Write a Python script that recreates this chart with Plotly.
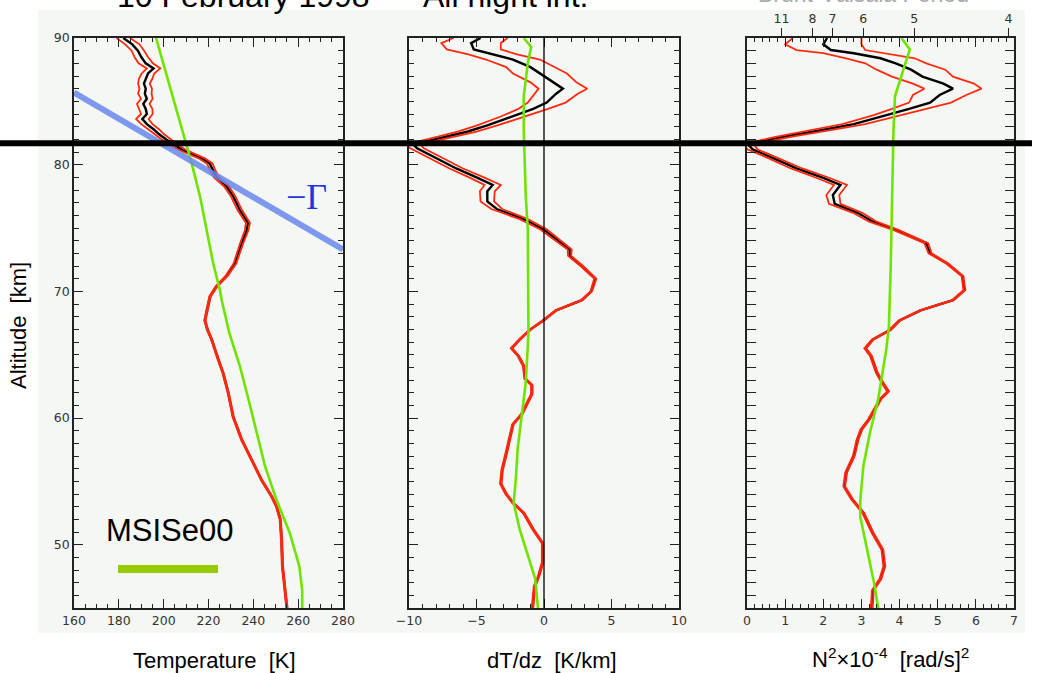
import numpy as np
import plotly.graph_objects as go

# ---------------- data ----------------
# Panel 1: lidar temperature [K] vs altitude [km]
z_T = [90.0, 89.5, 89.0, 88.5, 88.0, 87.6, 87.2, 86.8, 86.4, 86.0,
       85.6, 85.2, 84.8, 84.4, 84.0, 83.6, 83.2, 82.8, 82.4, 82.0,
       81.6, 81.2, 80.9, 80.5, 80.1, 79.5, 79.0, 78.3, 77.5, 76.4,
       75.4, 74.8, 73.8, 72.2, 71.2, 70.4, 69.6, 68.5, 67.7, 67.0,
       66.2, 64.6, 63.5, 62.0, 60.1, 58.3, 56.7, 55.1, 53.8, 53.0,
       52.0, 50.4, 48.3, 46.7, 45.0]
T_lidar = [182, 186, 188.5, 190, 192, 195.5, 193, 192, 191.2, 192,
           191.6, 192.5, 190.9, 192, 192.5, 190.5, 192.5, 195.5, 198, 201,
           204.5, 208, 211.7, 217, 220.5, 222, 223.6, 228, 231, 234,
           237.6, 237, 234.8, 231.8, 228, 223.6, 220.7, 219.3, 218.4, 219.5,
           221.4, 224.4, 226.6, 228.8, 231, 234.8, 239.2, 243.7, 248.2, 250.4,
           252, 252.6, 253, 254, 255]
T_err = [3.0, 3.2, 2.8, 3.0, 3.2, 3.0, 2.8, 3.0, 2.6, 2.8,
         3.0, 2.6, 2.8, 3.0, 2.6, 2.8, 2.5, 2.4, 2.2, 2.0,
         1.8, 1.6, 1.5, 1.4, 1.3, 1.2, 1.2, 1.1, 1.0, 1.0,
         0.9, 0.8, 0.7, 0.6, 0.5, 0.4, 0.35, 0.3, 0.3, 0.3,
         0.3, 0.3, 0.3, 0.3, 0.3, 0.3, 0.3, 0.3, 0.3, 0.3,
         0.3, 0.3, 0.3, 0.3, 0.3]

z_T_msis = [90, 87.5, 84.3, 82, 80.1, 77.5, 74.85, 72.2, 70.1, 69.3, 66.7,
            64.1, 61.5, 58.8, 56.2, 53.5, 50.9, 48.3, 46.4, 45]
T_msis = [196.6, 200.6, 205.8, 209.5, 212.5, 216.2, 219.2, 222.1, 225.1, 225.9, 229.3,
          234.0, 237.8, 241.5, 245.2, 250.4, 256.3, 260.5, 261.8, 261.8]

# lapse-rate line (-Gamma)
gamma_T = [160, 280]
gamma_z = [85.7, 73.3]

# Panel 2: dT/dz [K/km]
z_G = [90.0, 89.6, 89.1, 88.7, 88.3, 87.7, 87.2, 86.5, 86.0, 85.6,
       84.9, 84.4, 83.8, 83.1, 82.6, 82.1, 81.6, 81.3, 80.5, 79.7,
       79.0, 78.4, 77.9, 77.1, 76.5, 75.7, 74.9, 74.1, 73.3, 72.8,
       72.0, 71.0, 70.0, 69.3, 68.5, 67.7, 67.0, 66.2, 65.5, 64.9,
       64.1, 63.1, 62.6, 61.9, 61.3, 60.3, 59.5, 58.5, 57.2, 55.9,
       54.8, 54.0, 53.3, 52.5, 51.2, 50.1, 48.6, 47.5, 46.7, 45.0]
dTdz = [-4.7, -5.4, -5.2, -3.8, -2.3, -1.0, -0.3, 0.7, 1.4, 0.9,
        0.2, -0.8, -2.3, -4.2, -5.7, -7.7, -9.7, -9.4, -8.0, -6.5,
        -5.0, -3.8, -4.2, -4.2, -3.5, -1.5, -0.05, 0.9, 1.9, 1.9,
        2.8, 3.8, 3.5, 2.8, 0.9, -0.05, -1.0, -1.8, -2.4, -1.9,
        -1.5, -1.4, -0.9, -0.9, -1.2, -1.65, -2.3, -2.5, -2.8, -3.1,
        -3.2, -2.8, -2.3, -1.5, -0.8, -0.1, -0.1, -0.4, -0.7, -0.85]
dTdz_err = [2.0, 2.2, 2.0, 1.8, 2.0, 1.8, 2.0, 1.7, 1.8, 1.6,
            1.4, 1.1, 0.9, 0.75, 0.7, 0.6, 0.55, 0.5, 0.5, 0.5,
            0.55, 0.6, 0.55, 0.5, 0.4, 0.3, 0.25, 0.2, 0.15, 0.12,
            0.1, 0.08, 0.06, 0.06, 0.06, 0.06, 0.06, 0.06, 0.06, 0.06,
            0.06, 0.06, 0.06, 0.06, 0.06, 0.06, 0.06, 0.06, 0.06, 0.06,
            0.06, 0.06, 0.06, 0.06, 0.06, 0.06, 0.06, 0.06, 0.06, 0.06]

z_G_msis = [90, 89.3, 88, 85.4, 82.7, 77.5, 74.85, 69.6, 66.7, 62.8, 60.2,
            57.6, 55.0, 53.3, 51.2, 49.1, 47.3, 45.0]
dTdz_msis = [-1.5, -0.95, -1.2, -1.5, -1.5, -1.35, -1.2, -1.15, -1.15, -1.35, -1.65,
             -1.95, -2.1, -2.25, -1.8, -1.2, -0.65, -0.45]

# Panel 3: N^2 x 1e-4 [rad/s]^2
z_N = [90.0, 89.5, 89.05, 88.8, 88.4, 88.0, 87.5, 86.95, 86.4, 86.0,
       85.5, 84.9, 84.4, 83.9, 83.2, 82.7, 82.2, 81.6, 81.2, 80.5,
       79.7, 78.95, 78.4, 77.6, 76.9, 76.2, 75.5, 74.85, 73.8, 73.0,
       72.2, 71.2, 70.1, 69.3, 68.5, 67.7, 66.95, 66.2, 65.5, 64.9,
       63.6, 62.8, 62.1, 61.5, 60.7, 59.9, 59.1, 58.3, 57.0, 55.7,
       54.6, 53.6, 52.5, 50.9, 49.6, 48.3, 47.3, 46.4, 45.0]
N2 = [2.1, 2.0, 2.2, 2.8, 3.5, 3.9, 4.3, 4.6, 5.15, 5.4,
      5.05, 4.8, 4.25, 3.65, 2.8, 1.9, 0.95, 0.03, 0.15, 0.7,
      1.3, 2.0, 2.45, 2.25, 2.3, 2.9, 3.3, 3.9, 4.7, 4.8,
      5.25, 5.65, 5.7, 5.4, 4.55, 4.0, 3.75, 3.3, 3.1, 3.25,
      3.4, 3.55, 3.7, 3.5, 3.35, 3.2, 3.0, 2.9, 2.8, 2.6,
      2.55, 2.75, 3.05, 3.3, 3.55, 3.6, 3.5, 3.3, 3.27]
N2_err = [0.9, 1.0, 0.9, 0.8, 0.9, 0.8, 0.9, 0.8, 0.8, 0.75,
          0.7, 0.55, 0.45, 0.35, 0.3, 0.25, 0.2, 0.15, 0.13, 0.13,
          0.15, 0.17, 0.17, 0.17, 0.15, 0.12, 0.1, 0.07, 0.05, 0.04,
          0.03, 0.025, 0.025, 0.025, 0.025, 0.025, 0.025, 0.025, 0.025, 0.025,
          0.025, 0.025, 0.025, 0.025, 0.025, 0.025, 0.025, 0.025, 0.025, 0.025,
          0.025, 0.025, 0.025, 0.025, 0.025, 0.025, 0.025, 0.025, 0.025]

z_N_msis = [90, 89.1, 87.5, 85.4, 82.7, 77.5, 72.2, 67.2, 65.4, 61.5,
            58.8, 56.2, 53.5, 52.2, 49.6, 47.0, 45.0]
N2_msis = [4.05, 4.27, 4.1, 3.88, 3.84, 3.81, 3.77, 3.72, 3.65, 3.44,
           3.22, 3.05, 2.97, 2.97, 3.14, 3.33, 3.44]

# Brunt-Vaisala period tick labels [min]
periods_min = [11, 8, 7, 6, 5, 4]

# ---------------- figure ----------------
W, H = 1046, 673
def fx(p): return p / W
def fy(p): return 1 - p / H

RED = "#ff2a10"
GREEN = "#6fe400"
BLACK = "#000000"
FRAME = "#222222"

fig = go.Figure()

def add_profile(xa, ya, z, v, e, zm, vm):
    z = np.array(z); v = np.array(v); e = np.array(e)
    fig.add_trace(go.Scatter(x=v, y=z, mode="lines", line=dict(color=BLACK, width=2.4),
                             xaxis=xa, yaxis=ya, hoverinfo="skip"))
    for s in (-1, 1):
        fig.add_trace(go.Scatter(x=v + s * e, y=z, mode="lines",
                                 line=dict(color=RED, width=1.8),
                                 xaxis=xa, yaxis=ya, hoverinfo="skip"))
    fig.add_trace(go.Scatter(x=vm, y=zm, mode="lines", line=dict(color=GREEN, width=2.6),
                             xaxis=xa, yaxis=ya, hoverinfo="skip"))

add_profile("x", "y", z_T, T_lidar, T_err, z_T_msis, T_msis)
fig.add_trace(go.Scatter(x=gamma_T, y=gamma_z, mode="lines",
                         line=dict(color="rgba(105,135,235,0.85)", width=6),
                         xaxis="x", yaxis="y", hoverinfo="skip"))
add_profile("x2", "y2", z_G, dTdz, dTdz_err, z_G_msis, dTdz_msis)
add_profile("x3", "y3", z_N, N2, N2_err, z_N_msis, N2_msis)

period_pos = [(2 * np.pi / (p * 60.0)) ** 2 * 1e4 for p in periods_min]
fig.add_trace(go.Scatter(x=[None], y=[None], xaxis="x4", yaxis="y3", mode="lines",
                         showlegend=False, hoverinfo="skip"))

tickfont = dict(family="DejaVu Sans", size=12.5, color="#333333")

def xax(dom, rng, dtick, minor_dtick, anchor, tick0=None):
    d = dict(domain=dom, range=rng, dtick=dtick, ticks="inside", ticklen=9, tickwidth=1.2,
             tickcolor=FRAME, showline=True, linecolor=FRAME, linewidth=1.5,
             mirror="allticks", showgrid=False, zeroline=False, anchor=anchor,
             tickfont=tickfont, fixedrange=True, automargin=False,
             minor=dict(ticks="inside", dtick=minor_dtick, ticklen=4, tickwidth=1,
                        tickcolor=FRAME, showgrid=False))
    if tick0 is not None:
        d["tick0"] = tick0
    return d

def yax(anchor, labels):
    return dict(domain=[fy(608), fy(38)], range=[45, 90], dtick=10, tick0=0,
                ticks="inside", ticklen=9, tickwidth=1.2, tickcolor=FRAME,
                showline=True, linecolor=FRAME, linewidth=1.5, mirror="allticks",
                showgrid=False, zeroline=False, anchor=anchor, showticklabels=labels,
                tickfont=tickfont, fixedrange=True, automargin=False,
                minor=dict(ticks="inside", dtick=1, ticklen=5, tickwidth=1,
                           tickcolor=FRAME, showgrid=False))

fig.update_layout(
    width=W, height=H,
    margin=dict(l=0, r=0, t=0, b=0, pad=0, autoexpand=False),
    paper_bgcolor="white",
    plot_bgcolor="#f4f7f4",
    showlegend=False,
    xaxis=xax([fx(74), fx(343)], [160, 280], 20, 5, "y", 160),
    yaxis=yax("x", True),
    xaxis2=xax([fx(409), fx(679)], [-10, 10], 5, 1, "y2", 0),
    yaxis2=yax("x2", False),
    xaxis3=xax([fx(747), fx(1014)], [0, 7], 1, 0.2, "y3", 0),
    yaxis3=yax("x3", False),
    xaxis4=dict(overlaying="x3", side="top", anchor="y3", range=[0, 7],
                tickmode="array", tickvals=period_pos, ticktext=[str(p) for p in periods_min],
                ticks="outside", ticklen=9, tickwidth=1.2, tickcolor=FRAME,
                showline=False, showgrid=False, zeroline=False, tickfont=tickfont,
                fixedrange=True, automargin=False),
)

shapes = [
    # pale slide background
    dict(type="rect", xref="paper", yref="paper", x0=fx(38), x1=fx(1025), y0=fy(633), y1=fy(10),
         fillcolor="#f4f7f4", line=dict(width=0), layer="below"),
    # zero line in dT/dz panel
    dict(type="line", xref="x2", yref="y2 domain", x0=0, x1=0, y0=0, y1=1,
         line=dict(color=BLACK, width=1.3)),
    # marker line
    dict(type="line", xref="paper", yref="y", x0=0, x1=fx(1032), y0=81.7, y1=81.7,
         line=dict(color=BLACK, width=6)),
    # MSIS legend bar
    dict(type="line", xref="paper", yref="paper", x0=fx(118), x1=fx(218), y0=fy(569), y1=fy(569),
         line=dict(color="#99cc00", width=8)),
]
fig.update_layout(shapes=shapes)

ann_font = dict(family="Liberation Sans", size=22, color="black")
annotations = [
    dict(text="Temperature\u00a0\u00a0[K]", x=fx(214), y=fy(660), xref="paper", yref="paper",
         showarrow=False, font=ann_font, xanchor="center", yanchor="middle"),
    dict(text="dT/dz\u00a0\u00a0[K/km]", x=fx(552), y=fy(660), xref="paper", yref="paper",
         showarrow=False, font=ann_font, xanchor="center", yanchor="middle"),
    dict(text="N<sup>2</sup>×10<sup>-4</sup>\u00a0\u00a0[rad/s]<sup>2</sup>", x=fx(890), y=fy(658),
         xref="paper", yref="paper", showarrow=False, font=ann_font,
         xanchor="center", yanchor="middle"),
    dict(text="Altitude\u00a0\u00a0[km]", x=fx(18), y=fy(326), xref="paper", yref="paper",
         showarrow=False, font=ann_font, textangle=-90, xanchor="center", yanchor="middle"),
    dict(text="MSISe00", x=fx(170), y=fy(530), xref="paper", yref="paper",
         showarrow=False, font=dict(family="Liberation Sans", size=31, color="black"),
         xanchor="center", yanchor="middle"),
    dict(text="\u2212\u0393", x=fx(306), y=fy(197), xref="paper", yref="paper",
         showarrow=False, font=dict(family="Liberation Serif", size=36, color="#1f35e0"),
         xanchor="center", yanchor="middle"),
    dict(text="10 February 1998", x=fx(243), y=1.006, xref="paper", yref="paper",
         showarrow=False, font=dict(family="Liberation Sans", size=32, color="black"),
         xanchor="center", yanchor="middle"),
    dict(text="All night int.", x=fx(505), y=1.006, xref="paper", yref="paper",
         showarrow=False, font=dict(family="Liberation Sans", size=32, color="black"),
         xanchor="center", yanchor="middle"),
    dict(text="Brunt-Väisälä Period", x=fx(863), y=1.009, xref="paper", yref="paper",
         showarrow=False, font=dict(family="Liberation Sans", size=23, color="#aaaaaa"),
         xanchor="center", yanchor="middle"),
]
fig.update_layout(annotations=annotations)

fig.write_html("out.html", config={"displayModeBar": False},
               post_script="document.body.style.margin='0px';")
